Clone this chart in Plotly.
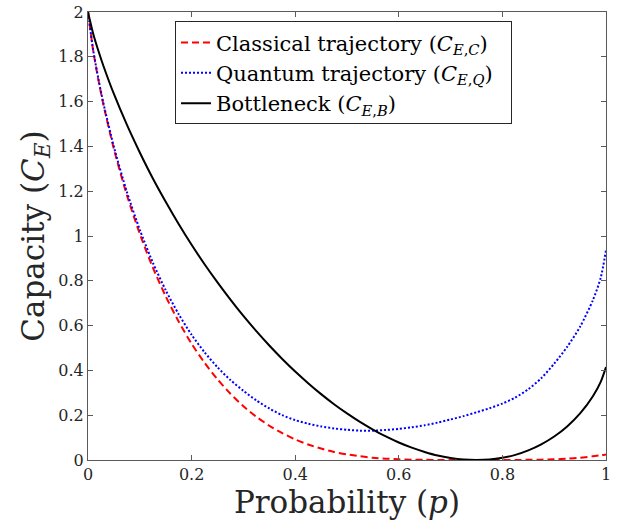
import plotly.graph_objects as go

# Probability grid
p = [0.0, 0.01, 0.02, 0.03, 0.05, 0.075, 0.1, 0.125, 0.15, 0.175, 0.2, 0.225,
     0.25, 0.275, 0.3, 0.325, 0.35, 0.375, 0.4, 0.425, 0.45, 0.475, 0.5, 0.525,
     0.55, 0.575, 0.6, 0.625, 0.65, 0.675, 0.7, 0.725, 0.75, 0.775, 0.8, 0.825,
     0.85, 0.875, 0.9, 0.925, 0.95, 0.975, 0.99, 1.0]

classical = [2.0, 1.828, 1.698, 1.584, 1.388, 1.183, 1.010, 0.860, 0.731, 0.618,
             0.519, 0.434, 0.360, 0.296, 0.240, 0.193, 0.153, 0.120, 0.092, 0.069,
             0.051, 0.036, 0.025, 0.017, 0.010, 0.006, 0.003, 0.0015, 0.0007, 0.0002,
             0.0, 0.0, 0.0, 0.0, 0.0, 0.0002, 0.0007, 0.0015, 0.003, 0.006,
             0.010, 0.017, 0.021, 0.025]

quantum = [2.0, 1.830, 1.702, 1.590, 1.398, 1.197, 1.028, 0.882, 0.758, 0.651,
           0.559, 0.481, 0.414, 0.357, 0.309, 0.266, 0.230, 0.200, 0.178, 0.162,
           0.150, 0.141, 0.135, 0.131, 0.131, 0.134, 0.139, 0.146, 0.155, 0.167,
           0.181, 0.196, 0.213, 0.231, 0.252, 0.279, 0.316, 0.365, 0.430, 0.505,
           0.595, 0.715, 0.815, 0.937]

bottleneck = [2.0, 1.903, 1.827, 1.758, 1.634, 1.497, 1.373, 1.258, 1.153, 1.054,
              0.961, 0.874, 0.793, 0.716, 0.643, 0.575, 0.511, 0.451, 0.395, 0.343,
              0.294, 0.249, 0.208, 0.170, 0.136, 0.105, 0.078, 0.055, 0.036, 0.020,
              0.009, 0.002, 0.0, 0.002, 0.010, 0.023, 0.043, 0.070, 0.105, 0.150,
              0.208, 0.286, 0.350, 0.415]

names = ["Classical trajectory (<i>C</i><sub><i>E</i>,<i>C</i></sub>)",
         "Quantum trajectory (<i>C</i><sub><i>E</i>,<i>Q</i></sub>)&nbsp;&nbsp;",
         "Bottleneck (<i>C</i><sub><i>E</i>,<i>B</i></sub>)"]

x_ticks = [0, 0.2, 0.4, 0.6, 0.8, 1.0]
x_ticktext = ["0", "0.2", "0.4", "0.6", "0.8", "1"]
y_ticks = [0, 0.2, 0.4, 0.6, 0.8, 1.0, 1.2, 1.4, 1.6, 1.8, 2.0]
y_ticktext = ["0", "0.2", "0.4", "0.6", "0.8", "1", "1.2", "1.4", "1.6", "1.8", "2"]

FONT = "DejaVu Serif"

fig = go.Figure()
fig.add_trace(go.Scatter(x=p, y=classical, mode="lines", name=names[0],
                         line=dict(color="#FF0000", width=2, dash="7px,4px", shape="spline", smoothing=0.7)))
fig.add_trace(go.Scatter(x=p, y=quantum, mode="lines", name=names[1],
                         line=dict(color="#0000FF", width=2, dash="2px,2px", shape="spline", smoothing=0.7)))
fig.add_trace(go.Scatter(x=p, y=bottleneck, mode="lines", name=names[2],
                         line=dict(color="#000000", width=2, shape="spline", smoothing=0.7)))

axis_common = dict(showline=True, linecolor="#5a5a5a", linewidth=1, mirror="ticks",
                   ticks="inside", ticklen=5, tickcolor="#5a5a5a", showgrid=False,
                   zeroline=False, automargin=False,
                   tickfont=dict(family=FONT, size=16, color="#262626"))

fig.update_xaxes(range=[0, 1], tickvals=x_ticks, ticktext=x_ticktext,
                 title=dict(text="Probability (<i>p</i>)", font=dict(family=FONT, size=31, color="#262626"),
                            standoff=0),
                 **axis_common)
fig.update_yaxes(range=[0, 2], tickvals=y_ticks, ticktext=y_ticktext,
                 title=dict(text="Capacity (<i>C</i><sub><i>E</i></sub>)", font=dict(family=FONT, size=31, color="#262626"),
                            standoff=4),
                 **axis_common)

fig.update_layout(
    width=618, height=529,
    margin=dict(l=88, r=12, t=12, b=69),
    paper_bgcolor="white", plot_bgcolor="white",
    legend=dict(x=0.168, y=0.979, xanchor="left", yanchor="top",
                bordercolor="#262626", borderwidth=1, bgcolor="white",
                font=dict(family=FONT, size=21, color="#000000"),
                itemwidth=30, tracegroupgap=0),
    showlegend=True,
)

fig.write_html("out.html", config={"displayModeBar": False},
               post_script="document.body.style.margin='0';document.body.style.overflow='hidden';")
